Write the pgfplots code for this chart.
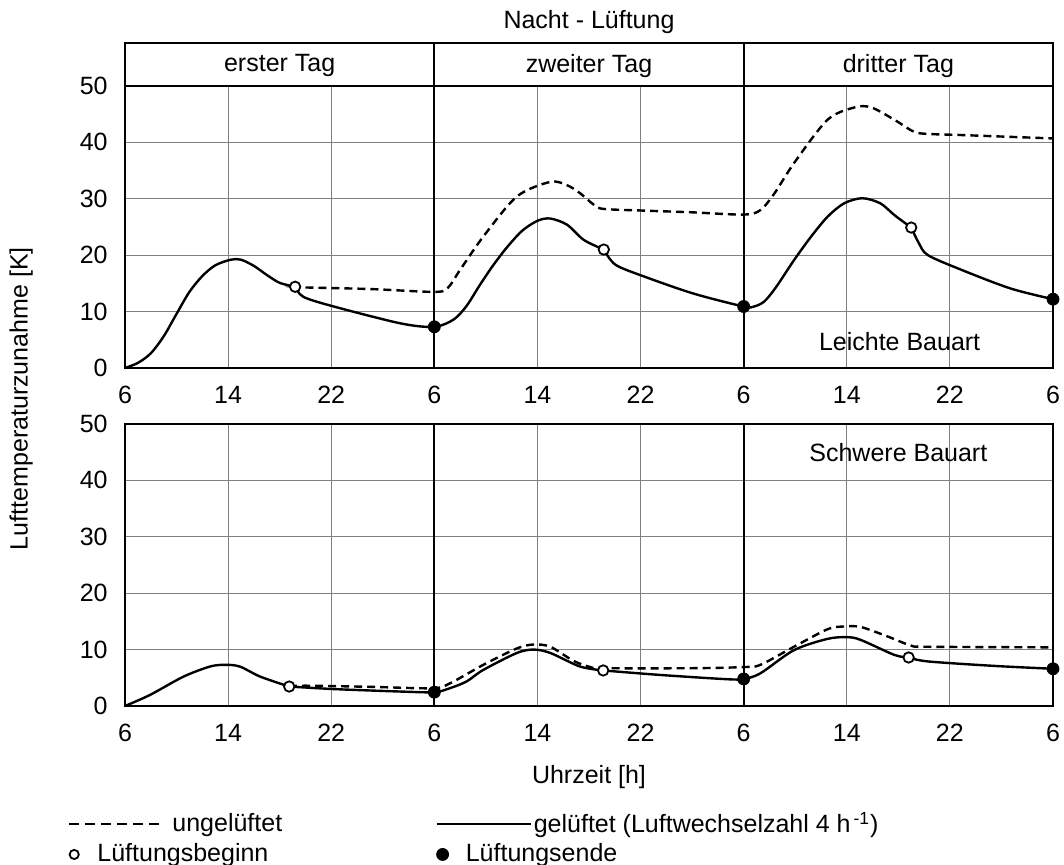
\documentclass[border=0pt]{standalone}
\usepackage{fontspec}
\setmainfont{Liberation Sans}
\usepackage{pgfplots}
\pgfplotsset{compat=1.18}
\begin{document}
\fontsize{12.5}{15}\selectfont
\begin{tikzpicture}[font=\fontsize{12.5}{15}\selectfont]
\path[use as bounding box] (0,0) rectangle (532pt,432.5pt);
\pgfplotsset{
  panel/.style={
    scale only axis, width=464pt, height=141pt,
    xmin=6, xmax=78, ymin=0, ymax=50,
    xtick={6,14,...,78}, xticklabels={6,14,22,6,14,22,6,14,22,6},
    ytick={0,10,...,50},
    major tick length=0pt,
    grid=major, major grid style={black!50, line width=0.6pt},
    axis line style={line width=1pt},
    tick label style={font=\fontsize{12.5}{15}\selectfont},
    xticklabel style={inner sep=0pt, anchor=north, yshift=-9pt},
    yticklabel style={inner sep=0pt, anchor=east, xshift=-8.5pt},
    /pgf/number format/assume math mode=true,
    clip=false,
  },
  vent/.style={line width=1.2pt, smooth, black, forget plot},
  unvent/.style={line width=1.2pt, smooth, black, dash pattern=on 4pt off 2.5pt, forget plot},
  beg/.style={only marks, mark=*, mark size=2.6pt, mark options={fill=white, draw=black, line width=0.9pt}, forget plot},
  fin/.style={only marks, mark=*, mark size=3pt, mark options={fill=black, draw=black}, forget plot},
}
% ---------------- top panel: Leichte Bauart ----------------
\begin{axis}[panel, at={(62.5pt,248.5pt)}, anchor=south west,
  title={Nacht - Lüftung},
  title style={at={(axis description cs:0.5,1.184)}, anchor=center, yshift=0pt, inner sep=0pt, font=\fontsize{12.5}{15}\selectfont},
]
\draw[line width=1pt] (axis cs:6,50) rectangle (axis cs:78,57.62);
\draw[line width=1.1pt] (axis cs:30,0) -- (axis cs:30,57.62);
\draw[line width=1.1pt] (axis cs:54,0) -- (axis cs:54,57.62);
\node at (axis cs:18,53.6) {erster Tag};
\node at (axis cs:42,53.6) {zweiter Tag};
\node at (axis cs:66,53.6) {dritter Tag};
\node at (axis cs:66.1,4.6) {Leichte Bauart};
% ungelueftet
\addplot[unvent] coordinates {(19.2,14.4) (19.6,14.3) (25,14.0) (29.9,13.5) (31.0,14.1) (32.0,17.4) (33.8,23.3) (36.4,30.4) (39.0,33.0) (40.3,32.4) (41.3,31.0) (42.4,28.9) (43.15,28.2) (46.3,27.9) (50,27.6) (54.0,27.2) (55.3,28.0) (56.4,31.0) (57.9,36.3) (60.5,44.0) (62.6,46.2) (63.9,46.2) (65.7,44.0) (67.2,41.9) (68.3,41.5) (70.9,41.3) (78,40.7)};
% gelueftet
\addplot[vent] coordinates {(6,0) (7,0.9) (8,2.6) (9,5.6) (10,9.6) (11,13.5) (12,16.3) (13,18.2) (14.2,19.2) (15,19.2) (16,18.1) (17,16.5) (18,15.1) (19.2,14.4)};
\addplot[vent] coordinates {(19.2,14.4) (19.85,12.6) (22.2,10.9) (27.4,7.9) (30,7.3) (31.5,8.6) (32.5,11.0) (33.5,14.6) (34.5,18.0) (35.6,21.3) (36.8,24.3) (38,26.1) (39,26.5) (40.3,25.4) (41.6,22.7) (43.15,21.0)};
\addplot[vent] coordinates {(43.15,21.0) (44.06,18.3) (46.3,16.2) (50.1,13.2) (54.0,10.9) (54.8,10.9) (55.6,11.8) (56.5,14.3) (57.9,19.1) (59.2,23.2) (60.5,26.8) (61.8,29.2) (63.2,30.1) (64.6,29.2) (65.7,27.1) (67.0,24.9)};
\addplot[vent] coordinates {(67.0,24.9) (67.6,22.1) (68.3,20.0) (70.9,17.4) (74.7,14.1) (78,12.2)};
\addplot[beg] coordinates {(19.2,14.4) (43.15,21.0) (67.0,24.9)};
\addplot[fin] coordinates {(30,7.3) (54,10.9) (78,12.2)};
\end{axis}
% ---------------- bottom panel: Schwere Bauart ----------------
\begin{axis}[panel, at={(62.5pt,79.5pt)}, anchor=south west,
  xlabel={Uhrzeit [h]},
  xlabel style={at={(axis description cs:0.5,-0.2518)}, anchor=center, inner sep=0pt, font=\fontsize{12.5}{15}\selectfont},
  ylabel={Lufttemperaturzunahme [K]},
  ylabel style={at={(axis description cs:-0.112,1.09)}, anchor=center, inner sep=0pt, font=\fontsize{12.5}{15}\selectfont},
  legend columns=2, legend cell align=left,
  legend style={at={(axis description cs:-0.0614,-0.376)}, anchor=north west, draw=none, fill=none,
    inner sep=0pt, outer sep=0pt, row sep=3.5pt, nodes={inner sep=0pt}, font=\fontsize{12.5}{15}\selectfont},
]
\draw[line width=1.1pt] (axis cs:30,0) -- (axis cs:30,50);
\draw[line width=1.1pt] (axis cs:54,0) -- (axis cs:54,50);
\node at (axis cs:66.0,44.85) {Schwere Bauart};
\addplot[unvent] coordinates {(18.74,3.45) (20,3.6) (25,3.4) (29.85,3.15) (31.2,4.0) (33.8,7.3) (36.4,10.2) (37.7,10.9) (39.0,10.5) (40.8,8.0) (42.1,6.9) (43.1,6.7) (50,6.7) (54,6.9) (55.3,7.3) (57.9,10.5) (60.5,13.6) (61.8,14.1) (63.1,14.0) (65.2,12.3) (67.0,10.7) (68.3,10.5) (78,10.4)};
\addplot[vent] coordinates {(6,0) (7.94,1.96) (10.53,5.2) (12.6,7.0) (13.77,7.3) (14.9,7.0) (16.5,5.2) (18.74,3.45)};
\addplot[vent] coordinates {(18.74,3.45) (22.2,3.0) (27.4,2.56) (30,2.45) (31.2,3.15) (32.5,4.35) (33.8,6.4) (36.4,9.4) (37.7,10.0) (39.0,9.4) (41.3,7.0) (43.1,6.3)};
\addplot[vent] coordinates {(43.1,6.3) (47.55,5.5) (52.7,4.75) (54,4.8) (55.3,5.8) (57.9,9.9) (60.5,11.9) (62.05,12.2) (63.1,11.7) (65.7,9.05) (66.8,8.6)};
\addplot[vent] coordinates {(66.8,8.6) (68.3,7.9) (73.5,7.1) (78,6.6)};
\addplot[beg] coordinates {(18.74,3.45) (43.1,6.3) (66.8,8.6)};
\addplot[fin] coordinates {(30,2.45) (54,4.8) (78,6.6)};
\addlegendimage{legend image code/.code={\draw[line width=1.2pt, dash pattern=on 5pt off 3pt] (0pt,0pt) -- (45pt,0pt);}}
\addlegendentry{\makebox[137.5pt][l]{\hspace*{6pt}ungelüftet}}
\addlegendimage{legend image code/.code={\draw[line width=1.2pt] (0pt,0pt) -- (47pt,0pt);}}
\addlegendentry{\hspace*{1pt}gelüftet (Luftwechselzahl 4 h\textsuperscript{\,-1})}
\addlegendimage{legend image code/.code={\draw[line width=0.9pt, fill=white] (2.5pt,0pt) circle (2.3pt);}}
\addlegendentry{\makebox[137.5pt][l]{\hspace*{-31.5pt}Lüftungsbeginn}}
\addlegendimage{legend image code/.code={\fill (3pt,0pt) circle (3pt);}}
\addlegendentry{\hspace*{-33pt}Lüftungsende}
\end{axis}
\end{tikzpicture}
\end{document}
